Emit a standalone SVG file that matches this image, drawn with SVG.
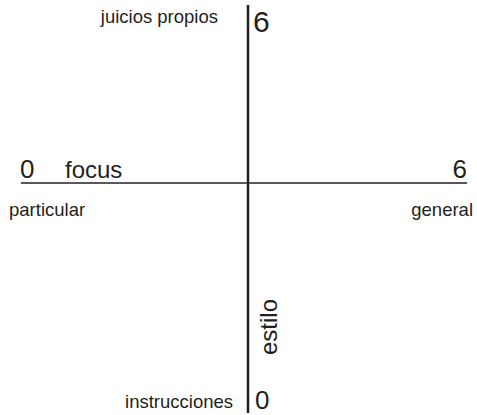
<svg xmlns="http://www.w3.org/2000/svg" width="477" height="415" viewBox="0 0 477 415">
<style>
text{font-family:"Liberation Sans",Arial,sans-serif;fill:#231f20}
.s{font-size:18.5px}
.b{font-size:26px}
.m{font-size:24px}
</style>
<rect width="477" height="415" fill="#fff"/>
<g id="axes">
<line x1="248" y1="5" x2="248" y2="413" stroke="#231f20" stroke-width="2.5"/>
<line x1="21" y1="183" x2="467" y2="183" stroke="#231f20" stroke-width="1.5"/>
</g>
<g id="top"><text class="s" x="218" y="23" text-anchor="end">juicios propios</text><text x="253" y="32" style="font-size:30px">6</text></g>
<g id="left"><text class="b" x="20" y="178">0</text><text class="m" x="65" y="178">focus</text><text class="s" x="9" y="216">particular</text></g>
<g id="right"><text class="b" x="467" y="178" text-anchor="end">6</text><text class="s" x="473" y="216" text-anchor="end">general</text></g>
<g id="bottom"><text class="s" x="233" y="408" text-anchor="end">instrucciones</text><text class="b" x="255" y="409">0</text>
<text class="m" transform="translate(277 327) rotate(-90)" text-anchor="middle">estilo</text></g>
</svg>
